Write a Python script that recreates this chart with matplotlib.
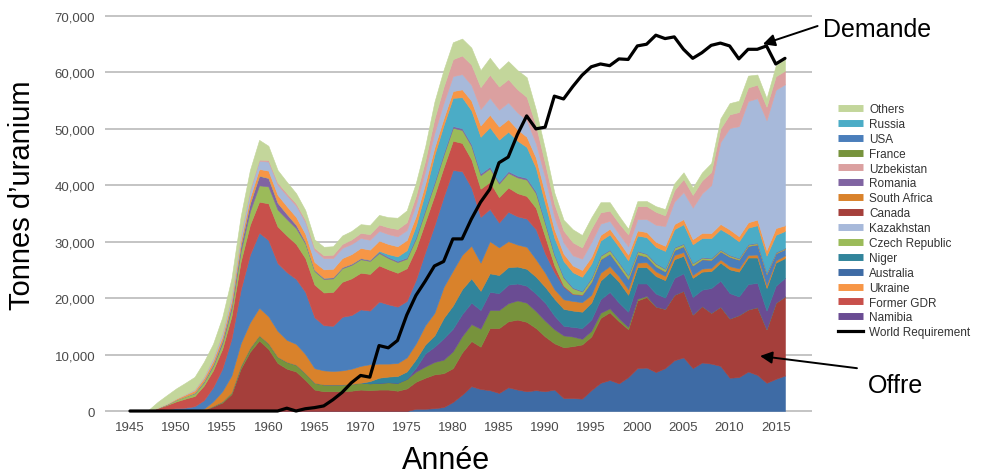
import matplotlib
matplotlib.use('Agg')
import matplotlib.pyplot as plt
from matplotlib.lines import Line2D
from matplotlib.ticker import FuncFormatter

plt.rcParams['font.family'] = ['Liberation Sans', 'DejaVu Sans']

years = list(range(1945, 2017))

# production by country, tonnes U (bottom of the stack first)
australia = [0, 0, 0, 0, 0, 0, 0, 0, 0, 0,
             0, 0, 0, 0, 0, 0, 0, 0, 0, 0,
             0, 0, 0, 0, 0, 0, 0, 0, 0, 0,
             0, 400, 400, 500, 700, 1600, 2900, 4400, 3900, 3700,
             3200, 4200, 3800, 3500, 3700, 3500, 3800, 2300, 2300, 2200,
             3700, 5000, 5500, 4900, 6000, 7600, 7700, 6900, 7600, 9000,
             9500, 7600, 8600, 8400, 8000, 5900, 6000, 7000, 6400, 5000,
             5700, 6300]
canada = [0, 0, 0, 0, 0, 0, 0, 0, 200, 800,
          1500, 3000, 7500, 10500, 12500, 11000, 8500, 7500, 7000, 5500,
          3800, 3500, 3500, 3500, 3600, 3800, 3700, 3800, 3800, 3600,
          4000, 4800, 5500, 6000, 6000, 6000, 7500, 8000, 7500, 11000,
          11500, 11700, 12400, 12300, 11000, 9700, 8200, 9000, 9200, 9600,
          9500, 11500, 12000, 11000, 8500, 12000, 12500, 11600, 10500, 11600,
          11800, 9500, 10000, 9000, 10500, 10500, 11000, 11000, 12000, 9500,
          13500, 14000]
france = [0, 0, 0, 0, 0, 0, 0, 0, 0, 100,
          200, 300, 500, 700, 900, 1000, 1100, 1200, 1200, 1200,
          1200, 1200, 1200, 1200, 1200, 1200, 1200, 1200, 1300, 1400,
          1700, 1800, 2000, 2200, 2400, 3000, 2900, 3000, 3200, 3200,
          3200, 3200, 3400, 3400, 3000, 2800, 2500, 2100, 1700, 1000,
          1000, 900, 700, 500, 400, 300, 200, 20, 0, 0,
          0, 0, 0, 0, 0, 0, 0, 0, 0, 0,
          0, 0]
namibia = [0, 0, 0, 0, 0, 0, 0, 0, 0, 0,
           0, 0, 0, 0, 0, 0, 0, 0, 0, 0,
           0, 0, 0, 0, 0, 0, 0, 0, 0, 0,
           0, 700, 2300, 2700, 3800, 4000, 3900, 3800, 3300, 3200,
           3000, 3300, 3000, 3000, 3100, 3200, 2400, 1700, 1700, 1900,
           2000, 2400, 2900, 2800, 2700, 2700, 2200, 2300, 2000, 3000,
           3100, 3100, 2900, 4400, 4600, 4500, 3300, 4500, 4300, 3300,
           3000, 3300]
niger = [0, 0, 0, 0, 0, 0, 0, 0, 0, 0,
         0, 0, 0, 0, 0, 0, 0, 0, 0, 0,
         0, 0, 0, 0, 0, 0, 400, 900, 1000, 1200,
         1300, 1500, 1600, 2000, 3600, 4100, 4400, 4300, 3400, 3300,
         3200, 3100, 3000, 3000, 3000, 2800, 3000, 3000, 2900, 2900,
         3000, 3300, 3500, 3700, 3000, 2900, 2900, 3100, 3100, 3300,
         3100, 3400, 3200, 3000, 3200, 4200, 4400, 4700, 4500, 4000,
         4100, 3500]
south_africa = [0, 0, 0, 0, 0, 0, 0, 50, 200, 800,
                1800, 3000, 4000, 4500, 4900, 4800, 4600, 3900, 3700, 3400,
                2600, 2500, 2400, 2500, 2700, 3000, 3000, 2500, 2300, 2300,
                2500, 2800, 3400, 4000, 5500, 6200, 6100, 5800, 5000, 5700,
                4900, 4600, 3900, 3900, 3100, 2500, 1700, 1700, 1700, 1700,
                1400, 1400, 1100, 970, 1000, 800, 870, 820, 760, 750,
                670, 530, 540, 570, 560, 580, 580, 465, 530, 570,
                390, 490]
usa = [0, 0, 0, 200, 300, 500, 600, 800, 1500, 2500,
       4000, 6500, 9500, 12000, 13300, 13500, 12000, 12000, 11500, 11000,
       9000, 8000, 8000, 9500, 9500, 10000, 9500, 11000, 10500, 10000,
       10000, 11300, 13000, 15500, 16000, 17800, 14800, 10300, 8100, 5700,
       4400, 5200, 5000, 5000, 5300, 3400, 3000, 2200, 1200, 1300,
       2300, 2400, 2200, 1800, 1800, 1500, 1000, 900, 780, 880,
       1040, 1670, 1650, 1430, 1450, 1660, 1540, 1600, 1800, 1900,
       1250, 1125]
former_gdr = [0, 0, 0, 320, 770, 1200, 1600, 1800, 2600, 3000,
              3500, 4000, 5000, 5300, 5500, 6500, 6500, 6500, 6200, 6000,
              5800, 5800, 6000, 6200, 6500, 6500, 6500, 6400, 6200, 6000,
              5800, 5500, 5300, 5300, 5200, 5200, 5000, 5000, 5000, 4800,
              4500, 4300, 4100, 4000, 3800, 3000, 1200, 230, 120, 50,
              0, 0, 0, 0, 0, 0, 0, 0, 0, 0,
              0, 0, 0, 0, 0, 0, 0, 0, 0, 0,
              0, 0]
czech = [0, 0, 0, 100, 150, 300, 400, 500, 600, 800,
         1000, 1300, 1800, 2400, 2900, 3000, 3000, 2900, 2800, 2600,
         2400, 2400, 2400, 2400, 2400, 2400, 2300, 2200, 2000, 1900,
         1700, 1800, 2000, 2100, 2200, 2300, 2300, 2400, 2400, 2400,
         2400, 2600, 2800, 2900, 2600, 2300, 1800, 1400, 950, 540,
         600, 600, 600, 610, 600, 500, 460, 465, 450, 410,
         400, 360, 300, 260, 260, 250, 230, 230, 215, 190,
         155, 140]
romania = [0, 0, 0, 0, 0, 0, 0, 100, 200, 300,
           500, 700, 1000, 1400, 1700, 1500, 1200, 900, 600, 300,
           200, 200, 200, 200, 200, 200, 200, 200, 200, 200,
           200, 300, 300, 300, 300, 300, 300, 300, 300, 300,
           300, 300, 300, 300, 300, 250, 200, 150, 120, 100,
           100, 100, 100, 100, 100, 86, 85, 90, 90, 90,
           90, 90, 77, 77, 75, 77, 77, 90, 80, 77,
           77, 50]
russia = [0, 0, 0, 0, 0, 0, 0, 0, 0, 0,
          0, 0, 0, 0, 0, 0, 0, 0, 0, 0,
          0, 0, 0, 0, 0, 0, 0, 200, 500, 800,
          1300, 2000, 3000, 4800, 5000, 5000, 5500, 6000, 6500, 7000,
          7500, 7000, 6200, 5500, 4200, 3300, 2900, 2800, 2700, 2500,
          2500, 2600, 2700, 2700, 2600, 2700, 2900, 2900, 3100, 3200,
          3400, 3300, 3400, 3500, 3600, 3600, 2950, 2900, 3100, 2990,
          3050, 3000]
ukraine = [0, 0, 0, 0, 100, 200, 300, 400, 500, 600,
           700, 800, 900, 1000, 1200, 1300, 1400, 1400, 1400, 1400,
           1400, 1500, 1500, 1600, 1700, 1800, 1800, 1800, 1800, 1800,
           1800, 1700, 1500, 1300, 1200, 1200, 1400, 1700, 2000, 2200,
           2300, 2200, 2000, 1800, 1800, 1800, 1500, 1300, 1200, 1200,
           1200, 1000, 1000, 1000, 1000, 900, 900, 900, 900, 900,
           900, 900, 900, 900, 900, 900, 900, 950, 1000, 1000,
           1200, 1000]
kazakhstan = [0, 0, 0, 0, 0, 0, 100, 200, 300, 500,
              700, 900, 1100, 1300, 1450, 1600, 1800, 1900, 2000, 2100,
              2100, 2000, 1900, 1800, 1800, 1760, 1750, 1750, 1750, 1750,
              1750, 2000, 2200, 2600, 2700, 2650, 2700, 2800, 2900, 3000,
              3000, 3000, 3000, 2950, 2500, 2800, 2200, 2000, 1800, 2000,
              2600, 2000, 1400, 1300, 1500, 2000, 2300, 3000, 3500, 4000,
              4800, 5600, 7000, 8500, 14500, 18000, 19500, 21500, 21500, 23000,
              24500, 25000]
uzbekistan = [0, 0, 0, 0, 0, 0, 0, 0, 0, 0,
              0, 0, 0, 200, 200, 300, 400, 400, 400, 400,
              400, 500, 600, 700, 800, 900, 1000, 1100, 1200, 1300,
              1400, 1600, 1900, 2500, 2900, 3000, 3300, 3600, 3900, 4100,
              4100, 4100, 4100, 4100, 3200, 2500, 2300, 2100, 2300, 2000,
              2400, 2000, 1800, 1900, 2100, 2300, 2300, 2300, 1900, 2000,
              2300, 2250, 2300, 2300, 2400, 2400, 2500, 2400, 2400, 2400,
              2400, 2400]
others = [0, 0, 200, 1000, 1500, 1800, 2000, 2200, 2600, 2500,
          2700, 3000, 3200, 3400, 3500, 2500, 2200, 2000, 1800, 1700,
          1500, 1500, 1500, 1500, 1500, 1550, 1600, 1700, 1800, 2000,
          2100, 2300, 2500, 3000, 3000, 3000, 3000, 3000, 3000, 3000,
          3000, 3200, 3400, 3500, 2800, 2500, 2000, 1900, 2300, 2200,
          2000, 1800, 1500, 1300, 1000, 900, 900, 1000, 1100, 1200,
          1200, 1300, 1400, 1600, 1800, 2000, 2000, 2100, 1800, 1500,
          1900, 2000]

world_requirement = [0, 0, 0, 0, 0, 0, 0, 0, 0, 0,
                     0, 0, 0, 0, 0, 0, 0, 500, 0, 400,
                     600, 900, 2000, 3300, 5000, 6300, 6000, 11600, 11200, 12500,
                     17000, 20500, 23000, 25700, 26500, 30500, 30500, 34000, 37000, 39300,
                     44000, 45000, 49000, 52300, 50000, 50300, 55800, 55300, 57500, 59500,
                     61000, 61500, 61200, 62400, 62300, 64700, 65000, 66600, 66000, 66300,
                     64100, 62500, 63500, 64800, 65200, 64700, 62400, 64100, 64100, 64700,
                     61500, 62500]

stack_names = ['Australia', 'Canada', 'France', 'Namibia', 'Niger', 'South Africa',
               'USA', 'Former GDR', 'Czech Republic', 'Romania', 'Russia', 'Ukraine',
               'Kazakhstan', 'Uzbekistan', 'Others']
stack_values = [australia, canada, france, namibia, niger, south_africa, usa,
                former_gdr, czech, romania, russia, ukraine, kazakhstan,
                uzbekistan, others]
colors = {'Australia': '#3E6BA5', 'Canada': '#A53F3B', 'France': '#77933C',
          'Namibia': '#6A4C93', 'Niger': '#31849B', 'South Africa': '#D9822B',
          'USA': '#4A7EBB', 'Former GDR': '#C8504B', 'Czech Republic': '#9BBB59',
          'Romania': '#8064A2', 'Russia': '#4BACC6', 'Ukraine': '#F79646',
          'Kazakhstan': '#A7B9DA', 'Uzbekistan': '#DBA0A0', 'Others': '#C3D69B'}
legend_order = ['Others', 'Russia', 'USA', 'France', 'Uzbekistan', 'Romania',
                'South Africa', 'Canada', 'Kazakhstan', 'Czech Republic', 'Niger',
                'Australia', 'Ukraine', 'Former GDR', 'Namibia']

fig = plt.figure(figsize=(9.94, 4.77), dpi=100)
ax = fig.add_axes([0.1056, 0.1327, 0.7113, 0.8352])

polys = ax.stackplot(years, *stack_values,
                     colors=[colors[n] for n in stack_names], linewidth=0.4)
for p, n in zip(polys, stack_names):
    p.set_edgecolor(colors[n])

ax.plot(years, world_requirement, color='black', linewidth=2.3,
        solid_joinstyle='round', solid_capstyle='round', zorder=5)

ax.set_xlim(1942.29, 2018.93)
ax.set_ylim(-300, 70300)
ax.set_yticks(range(0, 70001, 10000))
ax.set_xticks(range(1945, 2016, 5))
ax.yaxis.set_major_formatter(FuncFormatter(lambda v, p: f'{int(v):,}'))
ax.grid(axis='y', color='#BFBFBF', linewidth=1.3)
ax.grid(axis='x', visible=False)
ax.set_axisbelow(True)
for s in ax.spines.values():
    s.set_visible(False)
ax.tick_params(axis='both', length=0, labelsize=9.5, labelcolor='#4A4A4A')
ax.tick_params(axis='y', pad=7)
ax.tick_params(axis='x', pad=6)

fig.text(22 / 994, 1 - 195 / 477, 'Tonnes d\u2019uranium', rotation=90,
         ha='center', va='center', fontsize=21)
fig.text(446 / 994, 1 - 461 / 477, 'Année', ha='center', va='center',
         fontsize=22)

handles = [Line2D([], [], color=colors[n], linewidth=5, solid_capstyle='butt')
           for n in legend_order]
handles.append(Line2D([], [], color='black', linewidth=2.3))
labels = legend_order + ['World Requirement']
fig.legend(handles, labels, loc='upper left', bbox_to_anchor=(838 / 994, 1 - 104 / 477),
           frameon=False, fontsize=8.5, handlelength=2.1, handletextpad=0.55,
           labelspacing=0.245, borderpad=0, borderaxespad=0, labelcolor='#333333')

ax.annotate('Demande', xy=(2013.6, 65000), xytext=(823 / 994, 1 - 37 / 477),
            textcoords='figure fraction', fontsize=18, va='baseline', ha='left',
            arrowprops=dict(arrowstyle='-|>', color='black', lw=1.4,
                            mutation_scale=18, shrinkA=2, shrinkB=0,
                            relpos=(0, 0.7)))
ax.annotate('Offre', xy=(2013.3, 9750), xytext=(868 / 994, 1 - 393 / 477),
            textcoords='figure fraction', fontsize=18, va='baseline', ha='left',
            arrowprops=dict(arrowstyle='-|>', color='black', lw=1.4,
                            mutation_scale=18, shrinkA=0, shrinkB=0,
                            relpos=(-0.2, 1.2)))

fig.savefig('out.png', dpi=100)
